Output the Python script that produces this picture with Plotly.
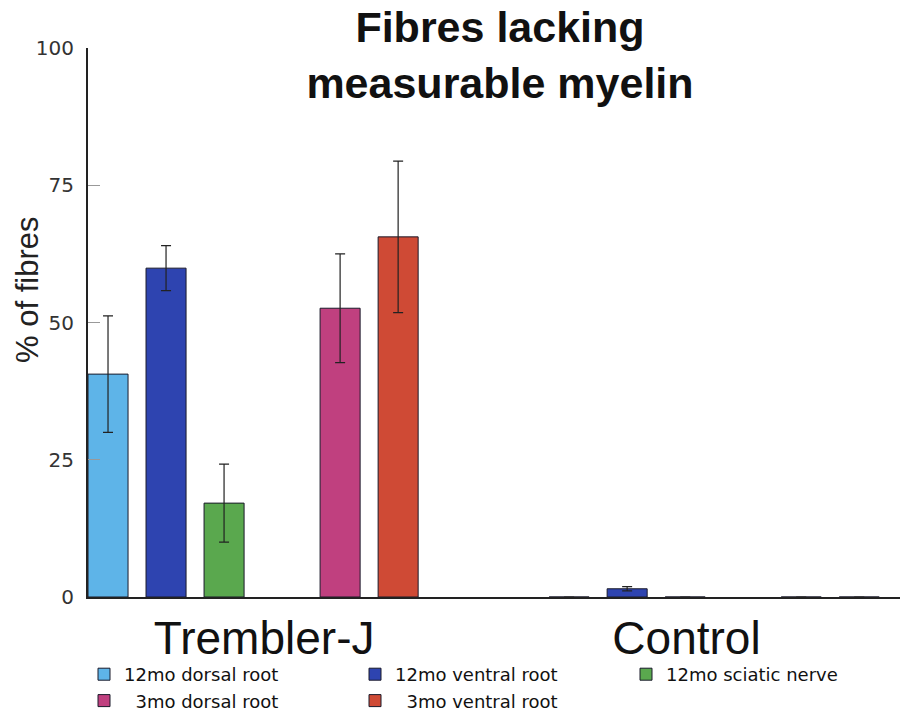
import plotly.graph_objects as go

groups = ["Trembler-J", "Control"]
series_names = ["12mo dorsal root", "12mo ventral root", "12mo sciatic nerve", "", "  3mo dorsal root", "  3mo ventral root"]
values = [
    [40.6, 0.0],
    [59.9, 1.5],
    [17.1, 0.0],
    [0.0, 0.0],
    [52.6, 0.0],
    [65.6, 0.0],
]
errors = [
    [10.6, None],
    [4.1, 0.4],
    [7.1, None],
    [None, None],
    [9.9, None],
    [13.8, None],
]
colors = ["#5eb4e8", "#2e44b0", "#5aa84e", "rgba(0,0,0,0)", "#c0407f", "#cf4a35"]
y_ticks = [0, 25, 50, 75, 100]
label_shift = [0.024, -0.06]
y_title = "% of fibres"

fig = go.Figure()
for name, vals, errs, col in zip(series_names, values, errors, colors):
    placeholder = name == ""
    fig.add_trace(go.Bar(
        x=groups, y=vals, name=name,
        marker=dict(color=col, line=dict(color="rgba(0,0,0,0)" if placeholder else "#1a1a2a", width=0 if placeholder else 1)),
        error_y=dict(type="data", array=errs, visible=not placeholder, color="#222222", thickness=1.2, width=5),
        showlegend=not placeholder,
    ))

fig.add_annotation(text=y_title, textangle=-90, showarrow=False,
                   xref="paper", yref="paper", x=(27 - 88) / 812, y=(597 - 290) / 549,
                   xanchor="center", yanchor="middle",
                   font=dict(family="Liberation Sans, Arial", size=31, color="#222222"))

fig.update_layout(
    width=902, height=713,
    paper_bgcolor="white", plot_bgcolor="white",
    margin=dict(l=88, r=2, t=48, b=116, autoexpand=False),
    barmode="group", bargap=0.245, bargroupgap=0.31,
    title=dict(text="Fibres lacking<br>measurable myelin", x=500/902, xanchor="center",
               y=0.941, yanchor="middle",
               font=dict(family="Liberation Sans, Arial", size=43, color="#111111", weight="bold")),
    xaxis=dict(range=[-0.358, 1.403], showline=True, linecolor="#222222", linewidth=2,
               tickmode="array", tickvals=[i + s for i, s in enumerate(label_shift)], ticktext=groups,
               ticks="", showgrid=False, zeroline=False, automargin=False,
               tickfont=dict(family="Liberation Sans, Arial", size=46, color="#111111")),
    yaxis=dict(range=[0, 100], showline=True, linecolor="#222222", linewidth=2,
               tickvals=y_ticks, ticks="inside", ticklen=12, tickcolor="#999999", tickwidth=1,
               ticklabelstandoff=8, automargin=False,
               showgrid=False, zeroline=False,
               tickfont=dict(family="DejaVu Sans", size=20, color="#333333")),
    legend=dict(orientation="h", xref="container", x=84/902, xanchor="left",
                yref="container", y=1 - 656/713, yanchor="top",
                entrywidth=226, entrywidthmode="pixels", itemwidth=30,
                font=dict(family="DejaVu Sans", size=18, color="#111111"),
                traceorder="normal", tracegroupgap=0, bgcolor="rgba(0,0,0,0)"),
)
fig.write_html("out.html")
